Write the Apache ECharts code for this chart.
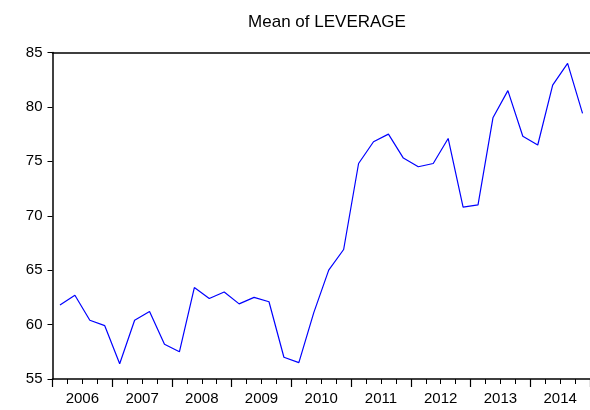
<!DOCTYPE html>
<html>
<head>
<meta charset="utf-8">
<script src="https://cdn.jsdelivr.net/npm/echarts@6/dist/echarts.min.js"></script>
<style>
  html, body { margin: 0; padding: 0; background: #fff; }
  #chart { width: 590px; height: 410px; }
</style>
</head>
<body>
<div id="chart"></div>
<script>
  // quarterly means, 2006Q1 .. 2014Q4
  const years = ['2006', '2007', '2008', '2009', '2010', '2011', '2012', '2013', '2014'];
  const quarters = [];
  years.forEach(y => { for (let q = 1; q <= 4; q++) quarters.push(y + 'Q' + q) });
  const leverage = [
    61.8, 62.7, 60.4, 59.9,
    56.4, 60.4, 61.2, 58.2,
    57.5, 63.4, 62.4, 63.0,
    61.9, 62.5, 62.1, 57.0,
    56.5, 61.1, 65.0, 66.9,
    74.8, 76.8, 77.5, 75.3,
    74.5, 74.8, 77.1, 70.8,
    71.0, 79.0, 81.5, 77.3,
    76.5, 82.0, 84.0, 79.4
  ];
  const yTicks = { min: 55, max: 85, interval: 5 };

  let chart = echarts.init(document.getElementById('chart'));
  const font = 'Liberation Sans, Arial, sans-serif';
  const option = {
    animation: false,
    title: {
      text: 'Mean of LEVERAGE',
      left: 322,
      textAlign: 'center',
      top: 9,
      textStyle: { fontFamily: font, fontSize: 17, fontWeight: 'normal', color: '#000' }
    },
    grid: { left: 52.5, right: -2.5, top: 52.5, bottom: 31 },
    xAxis: [
      {
        type: 'category',
        data: quarters,
        boundaryGap: true,
        axisLine: { show: true, lineStyle: { color: '#000', width: 1.5 } },
        axisTick: { show: true, interval: 0, alignWithLabel: false, length: 5, lineStyle: { color: '#000', width: 1 } },
        axisLabel: { show: false, interval: 0 },
        splitLine: { show: false }
      },
      {
        type: 'category',
        data: years,
        position: 'bottom',
        boundaryGap: true,
        axisLine: { show: false },
        axisTick: { show: true, interval: 0, length: 8, lineStyle: { color: '#000', width: 1.2 } },
        axisLabel: { interval: 0, margin: 12, fontFamily: font, fontSize: 15, color: '#000' },
        splitLine: { show: false }
      },
      {
        type: 'category',
        data: years,
        position: 'top',
        axisLine: { show: true, lineStyle: { color: '#000', width: 1.5 } },
        axisTick: { show: false },
        axisLabel: { show: false }
      }
    ],
    yAxis: {
      type: 'value',
      min: yTicks.min,
      max: yTicks.max,
      interval: yTicks.interval,
      axisLine: { show: true, lineStyle: { color: '#000', width: 1.5 } },
      axisTick: { show: true, length: 5, lineStyle: { color: '#000' } },
      axisLabel: { margin: 10, fontFamily: font, fontSize: 15, color: '#000' },
      splitLine: { show: false }
    },
    series: [
      {
        name: 'LEVERAGE',
        type: 'line',
        xAxisIndex: 0,
        data: leverage,
        symbol: 'none',
        lineStyle: { color: '#0000ff', width: 1.2 }
      }
    ]
  };
  chart.setOption(option);
</script>
</body>
</html>
